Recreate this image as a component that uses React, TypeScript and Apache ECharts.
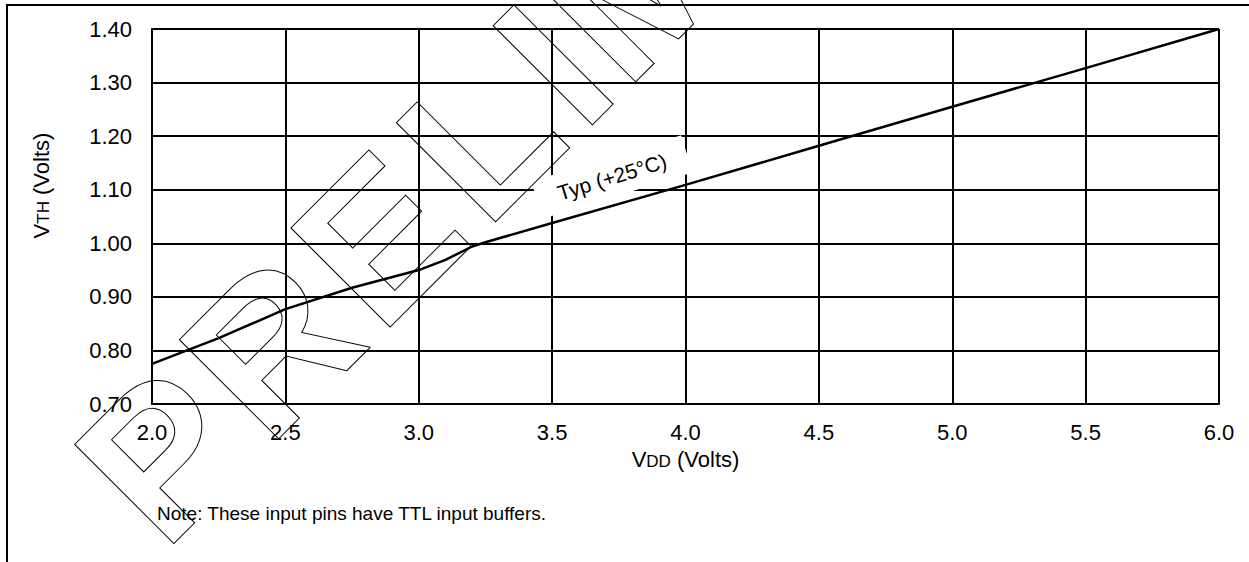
import React, { useEffect, useRef } from "react";
import * as echarts from "echarts";

const vdd = [2.0, 2.25, 2.5, 2.75, 3.0, 3.1, 3.2, 3.25, 3.5, 4.0, 4.5, 5.0, 5.5, 6.0];
const vth = [0.775, 0.823, 0.877, 0.917, 0.95, 0.969, 0.994, 1.002, 1.038, 1.109, 1.182, 1.255, 1.327, 1.4];
const xTicks = { min: 2.0, max: 6.0, interval: 0.5 };
const yTicks = { min: 0.7, max: 1.4, interval: 0.1 };
const curveLabel = "Typ (+25°C)";
const noteText = "Note: These input pins have TTL input buffers.";
const watermark = ["P", "R", "E", "L", "I", "M", "I", "N", "A", "R", "Y"];
const watermarkS = [-275, -127, 31, 180, 317, 378, 556, 621, 780, 935, 1090];

const FONT = '"Liberation Sans", Arial, Helvetica, sans-serif';

export default function App() {
  const ref = useRef<HTMLDivElement>(null);
  useEffect(() => {
    document.body.style.margin = "0";
    const chart = echarts.init(ref.current!, null, { renderer: "svg" });
    const r2 = Math.SQRT2;
    const wmEls = watermark.map((ch, i) => {
      const s = watermarkS[i];
      const bx = (717 + s * r2) / 2;
      const by = (717 - s * r2) / 2;
      return {
        type: "text",
        x: bx - 50,
        y: by - 50,
        rotation: Math.PI / 4,
        z: 20,
        silent: true,
        style: {
          text: ch,
          x: 0,
          y: 0,
          font: `bold 204px ${FONT}`,
          fill: "none",
          stroke: "#000",
          lineWidth: 1,
          align: "left",
          verticalAlign: "middle",
        },
      };
    });
    chart.setOption({
      animation: false,
      grid: { left: 152, right: 30, top: 29, bottom: 158, containLabel: false },
      xAxis: {
        type: "value",
        min: xTicks.min,
        max: xTicks.max,
        interval: xTicks.interval,
        name: "{v|V}{s|DD}{v| (Volts)}",
        nameLocation: "middle",
        nameGap: 42,
        nameTextStyle: {
          rich: {
            v: { fontFamily: FONT, fontSize: 22, color: "#000", verticalAlign: "bottom", lineHeight: 24 },
            s: { fontFamily: FONT, fontSize: 17, color: "#000", verticalAlign: "bottom", lineHeight: 24 },
          },
        },
        axisLine: { show: true, lineStyle: { color: "#000", width: 2 } },
        axisTick: { show: false },
        splitLine: { show: true, lineStyle: { color: "#000", width: 2 } },
        axisLabel: {
          color: "#000",
          fontFamily: FONT,
          fontSize: 22,
          margin: 17,
          formatter: (v: number) => v.toFixed(1),
        },
      },
      yAxis: {
        type: "value",
        min: yTicks.min,
        max: yTicks.max,
        interval: yTicks.interval,
        name: "{v|V}{s|TH}{v| (Volts)}",
        nameLocation: "middle",
        nameGap: 100,
        nameTextStyle: {
          padding: [0, 0, 0, 62],
          rich: {
            v: { fontFamily: FONT, fontSize: 22, color: "#000", verticalAlign: "bottom", lineHeight: 24 },
            s: { fontFamily: FONT, fontSize: 17, color: "#000", verticalAlign: "bottom", lineHeight: 24 },
          },
        },
        axisLine: { show: true, lineStyle: { color: "#000", width: 2 } },
        axisTick: { show: false },
        splitLine: { show: true, lineStyle: { color: "#000", width: 2 } },
        axisLabel: {
          color: "#000",
          fontFamily: FONT,
          fontSize: 22,
          margin: 20,
          formatter: (v: number) => v.toFixed(2),
        },
      },
      series: [
        {
          type: "line",
          data: vdd.map((x, i) => [x, vth[i]]),
          showSymbol: false,
          symbol: "none",
          smooth: false,
          z: 5,
          lineStyle: { color: "#000", width: 2.5 },
        },
      ],
      graphic: {
        elements: [
          {
            type: "text",
            x: 612,
            y: 177,
            rotation: 0.3,
            z: 3,
            silent: true,
            style: {
              text: curveLabel,
              x: 0,
              y: 0,
              font: `21px ${FONT}`,
              fill: "#000",
              align: "center",
              verticalAlign: "middle",
              backgroundColor: "#fff",
              padding: [8, 22, 10, 22],
            },
          },
          {
            type: "text",
            x: 157,
            y: 513,
            z: 3,
            silent: true,
            style: {
              text: noteText,
              x: 0,
              y: 0,
              font: `19px ${FONT}`,
              fill: "#000",
              align: "left",
              verticalAlign: "middle",
            },
          },
          {
            type: "rect",
            z: 20,
            silent: true,
            shape: { x: 7, y: 5, width: 1400, height: 700 },
            style: { fill: "none", stroke: "#000", lineWidth: 2 },
          },
          ...wmEls,
        ],
      },
    });
    return () => chart.dispose();
  }, []);
  return <div ref={ref} style={{ width: 1249, height: 562 }} />;
}
